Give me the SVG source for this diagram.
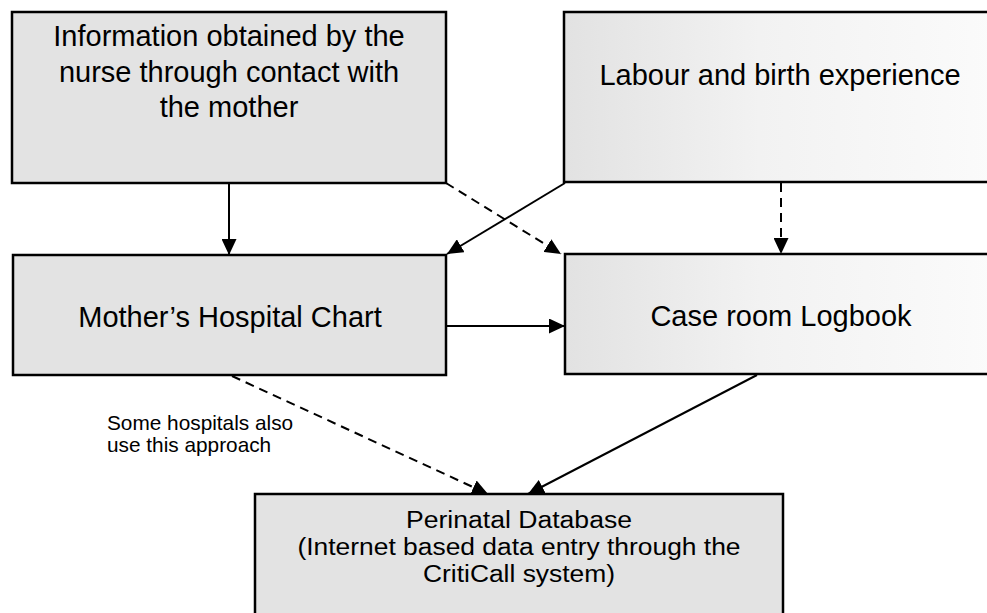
<svg xmlns="http://www.w3.org/2000/svg" width="987" height="613" viewBox="0 0 987 613">
  <defs>
    <style>
      .box { stroke: #000; stroke-width: 2.5; }
      .dark { fill: #e3e3e3; }
      .light { fill: url(#lightGrad); }
      .t { font-family: "Liberation Sans", Arial, sans-serif; fill: #000; text-anchor: middle; }
      .main { font-size: 29px; }
      .db { font-size: 23.5px; }
      .lbl { font-family: "Liberation Sans", Arial, sans-serif; font-size: 20.8px; fill: #000; }
      .conn { stroke: #000; stroke-width: 2; fill: none; marker-end: url(#arrow); }
      .dash { stroke-dasharray: 9 6; }
    </style>
    <linearGradient id="lightGrad" x1="0" y1="0" x2="1" y2="0">
      <stop offset="0" stop-color="#e2e2e2"/>
      <stop offset="0.45" stop-color="#f2f2f2"/>
      <stop offset="1" stop-color="#fbfbfb"/>
    </linearGradient>
    <marker id="arrow" markerUnits="userSpaceOnUse" markerWidth="16" markerHeight="15" refX="16" refY="7.5" orient="auto">
      <path d="M0,0 L16,7.5 L0,15 z" fill="#000"/>
    </marker>
  </defs>

  <g id="connectors">
    <line class="conn" x1="229" y1="183" x2="229" y2="255"/>
    <line class="conn dash" x1="446" y1="183" x2="561" y2="254"/>
    <line class="conn" x1="565" y1="183" x2="447" y2="254"/>
    <line class="conn dash" x1="781" y1="183" x2="781" y2="254"/>
    <line class="conn" x1="446" y1="326" x2="565" y2="326"/>
    <line class="conn dash" x1="232" y1="376" x2="488" y2="494"/>
    <line class="conn" x1="757" y1="375" x2="528" y2="494"/>
  </g>

  <g id="node-info">
    <rect class="box dark" x="12" y="12" width="434" height="171"/>
    <text class="t main" x="229" y="46">Information obtained by the</text>
    <text class="t main" x="229" y="82">nurse through contact with</text>
    <text class="t main" x="229" y="117">the mother</text>
  </g>

  <g id="node-labour">
    <rect class="box light" x="564" y="12" width="434" height="170"/>
    <text class="t main" x="780" y="85">Labour and birth experience</text>
  </g>

  <g id="node-chart">
    <rect class="box dark" x="13" y="255" width="433" height="120"/>
    <text class="t main" x="230" y="327">Mother’s Hospital Chart</text>
  </g>

  <g id="node-logbook">
    <rect class="box light" x="565" y="254" width="433" height="120"/>
    <text class="t main" x="781" y="326">Case room Logbook</text>
  </g>

  <g id="node-database">
    <rect class="box dark" x="255" y="494" width="528" height="130"/>
    <text class="t db" x="519" y="528" textLength="226" lengthAdjust="spacingAndGlyphs">Perinatal Database</text>
    <text class="t db" x="519" y="555" textLength="443" lengthAdjust="spacingAndGlyphs">(Internet based data entry through the</text>
    <text class="t db" x="519" y="582" textLength="192" lengthAdjust="spacingAndGlyphs">CritiCall system)</text>
  </g>

  <g id="label-approach">
    <text class="lbl" x="107" y="430">Some hospitals also</text>
    <text class="lbl" x="107" y="452">use this approach</text>
  </g>
</svg>
